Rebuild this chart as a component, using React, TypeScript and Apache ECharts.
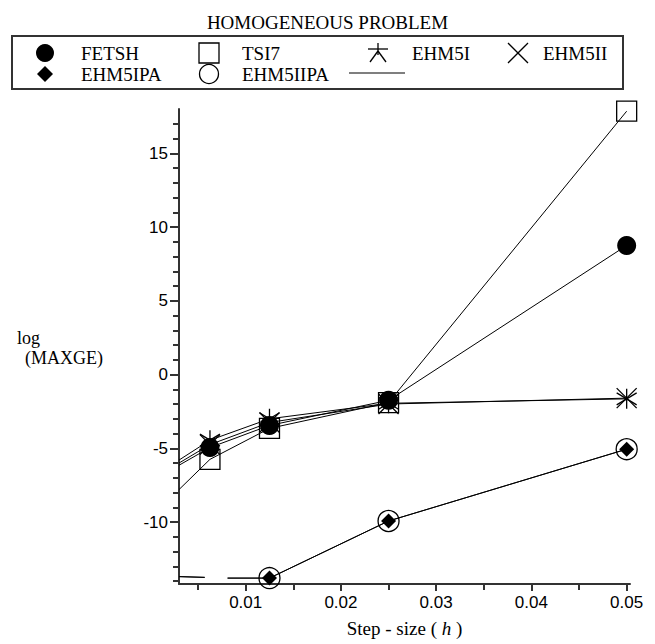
import React, { useEffect, useRef } from "react";
import * as echarts from "echarts";

// Step sizes (h) where the curves are drawn; the first one is where lines meet the y-axis
const STEP = [0.003, 0.00625, 0.0125, 0.025, 0.05];
const FETSH = [-6.15, -4.95, -3.45, -1.75, 8.75];
const TSI7 = [-7.8, -5.75, -3.65, -1.9, 17.85];
const EHM5I = [-5.8, -4.45, -3.0, -1.95, -1.65];
const EHM5II = [-6.0, -4.75, -3.25, -2.0, -1.6];

// PA methods: left part lies along the bottom of the plot, with a break
const PA_STEP = [0.003, 0.0057, 0.007, 0.0081, 0.0125, 0.025, 0.05];
const EHM5IPA: (number | string)[] = [-13.7, -13.75, "-", -13.8, -13.8, -9.93, -5.06];
const EHM5IIPA: (number | string)[] = [-13.7, -13.75, "-", -13.8, -13.8, -9.93, -5.06];

// Steps at which markers are drawn
const MARKED_STEPS = [0.00625, 0.0125, 0.025, 0.05];

const X_LABELS = [0.01, 0.02, 0.03, 0.04, 0.05];
const Y_LABELS = [-10, -5, 0, 5, 10, 15];

const SERIF = "Liberation Serif";
const SANS = "Liberation Sans";
const INK = "#000";
const AXIS = "#333";

const STAR = "path://M10,0L10,20M1,4L19,16M1,16L19,4";
const CROSS = "path://M0,0L20,20M0,20L20,0";

function build(xs: number[], ys: (number | string)[], marked: number[]) {
  return xs.map((x, i) => {
    const item: any = { value: [x, ys[i]] };
    if (!marked.includes(x)) item.symbol = "none";
    return item;
  });
}

export default function App() {
  const ref = useRef<HTMLDivElement>(null);

  useEffect(() => {
    if (!ref.current) return;
    const chart = echarts.init(ref.current, null, { renderer: "svg" });

    const hollow = { color: "none", borderColor: INK, borderWidth: 1.3 };
    const lineStyle = { color: INK, width: 1 };
    const mk = (name: string, xs: number[], ys: (number | string)[], symbol: string, size: number, itemStyle: any, marked = MARKED_STEPS) => ({
      name,
      type: "line",
      data: build(xs, ys, marked),
      symbol,
      symbolSize: size,
      showSymbol: true,
      showAllSymbol: true,
      connectNulls: false,
      itemStyle,
      lineStyle,
      emphasis: { disabled: true },
      silent: true,
    });

    const rowY1 = 53;
    const rowY2 = 74;
    const txt = (x: number, y: number, text: string, size = 19) => ({
      type: "text",
      x,
      y,
      style: { text, font: `${size}px "${SERIF}"`, fill: INK, verticalAlign: "middle", align: "left" },
    });

    chart.setOption({
      animation: false,
      backgroundColor: "#fff",
      title: {
        text: "HOMOGENEOUS PROBLEM",
        left: "center",
        top: 8,
        textStyle: { fontFamily: SERIF, fontSize: 19, fontWeight: "normal", color: INK },
      },
      grid: { left: 179, top: 109, right: 25, bottom: 60, outerBoundsMode: "none", containLabel: false },
      xAxis: {
        type: "value",
        min: 0.003,
        max: 0.05035,
        name: "Step - size ( {i|h} )",
        nameLocation: "middle",
        nameGap: 35,
        nameTextStyle: {
          fontFamily: SERIF,
          fontSize: 19,
          color: INK,
          rich: { i: { fontFamily: SERIF, fontSize: 19, fontStyle: "italic", color: INK } },
        },
        axisLine: { show: true, onZero: false, lineStyle: { color: AXIS, width: 2 } },
        axisTick: { show: true, length: 7, customValues: X_LABELS, lineStyle: { color: AXIS, width: 2 } },
        minorTick: { show: true, splitNumber: 2, length: 6, lineStyle: { color: AXIS, width: 2 } },
        axisLabel: { customValues: X_LABELS, fontFamily: SANS, fontSize: 17, color: INK, margin: 10 },
        splitLine: { show: false },
      },
      yAxis: {
        type: "value",
        min: -14.2,
        max: 18,
        axisLine: { show: true, onZero: false, lineStyle: { color: AXIS, width: 2 } },
        axisTick: { show: true, length: 9, customValues: Y_LABELS, lineStyle: { color: AXIS, width: 2 } },
        minorTick: { show: true, splitNumber: 5, length: 6, lineStyle: { color: AXIS, width: 2 } },
        axisLabel: { customValues: Y_LABELS, fontFamily: SANS, fontSize: 17, color: INK, margin: 11 },
        splitLine: { show: false },
      },
      series: [
        mk("TSI7", STEP, TSI7, "rect", 20, hollow),
        mk("EHM5I", STEP, EHM5I, STAR, 20, hollow),
        mk("EHM5II", STEP, EHM5II, CROSS, 20, hollow),
        mk("EHM5IIPA", PA_STEP, EHM5IIPA, "circle", 21, hollow),
        mk("FETSH", STEP, FETSH, "circle", 19, { color: INK, borderColor: INK, borderWidth: 0 }),
        mk("EHM5IPA", PA_STEP, EHM5IPA, "diamond", 15, { color: INK, borderColor: INK, borderWidth: 0 }),
      ],
      graphic: [
        // legend box
        { type: "rect", shape: { x: 12, y: 36, width: 611, height: 53 }, style: { fill: "none", stroke: AXIS, lineWidth: 2 } },
        // row 1
        { type: "circle", shape: { cx: 45, cy: rowY1, r: 9 }, style: { fill: INK } },
        txt(81, rowY1, "FETSH"),
        { type: "rect", shape: { x: 199, y: rowY1 - 10, width: 20, height: 20 }, style: { fill: "none", stroke: INK, lineWidth: 1.3 } },
        txt(242, rowY1, "TSI7"),
        {
          type: "group",
          children: [
            { type: "line", shape: { x1: 378, y1: rowY1 - 10, x2: 378, y2: rowY1 + 2 }, style: { stroke: INK, lineWidth: 1.3 } },
            { type: "line", shape: { x1: 368, y1: rowY1 - 4, x2: 388, y2: rowY1 - 4 }, style: { stroke: INK, lineWidth: 1.3 } },
            { type: "line", shape: { x1: 378, y1: rowY1 - 2, x2: 370, y2: rowY1 + 9 }, style: { stroke: INK, lineWidth: 1.3 } },
            { type: "line", shape: { x1: 378, y1: rowY1 - 2, x2: 386, y2: rowY1 + 9 }, style: { stroke: INK, lineWidth: 1.3 } },
          ],
        },
        txt(412, rowY1, "EHM5I"),
        { type: "line", shape: { x1: 508, y1: rowY1 - 10, x2: 528, y2: rowY1 + 10 }, style: { stroke: INK, lineWidth: 1.3 } },
        { type: "line", shape: { x1: 508, y1: rowY1 + 10, x2: 528, y2: rowY1 - 10 }, style: { stroke: INK, lineWidth: 1.3 } },
        txt(543, rowY1, "EHM5II"),
        // row 2
        { type: "polygon", shape: { points: [[45, rowY2 - 8], [53, rowY2], [45, rowY2 + 8], [37, rowY2]] }, style: { fill: INK } },
        txt(81, rowY2, "EHM5IPA"),
        { type: "circle", shape: { cx: 209, cy: rowY2, r: 9.5 }, style: { fill: "none", stroke: INK, lineWidth: 1.3 } },
        txt(242, rowY2, "EHM5IIPA"),
        { type: "line", shape: { x1: 349, y1: rowY2 - 1, x2: 405, y2: rowY2 - 1 }, style: { stroke: INK, lineWidth: 1.2 } },
        // y-axis name
        txt(17, 338, "log", 18),
        txt(25, 358, "(MAXGE)", 18),
      ],
    });

    return () => chart.dispose();
  }, []);

  return <div ref={ref} style={{ position: "absolute", left: 0, top: 0, width: 655, height: 644 }} />;
}
